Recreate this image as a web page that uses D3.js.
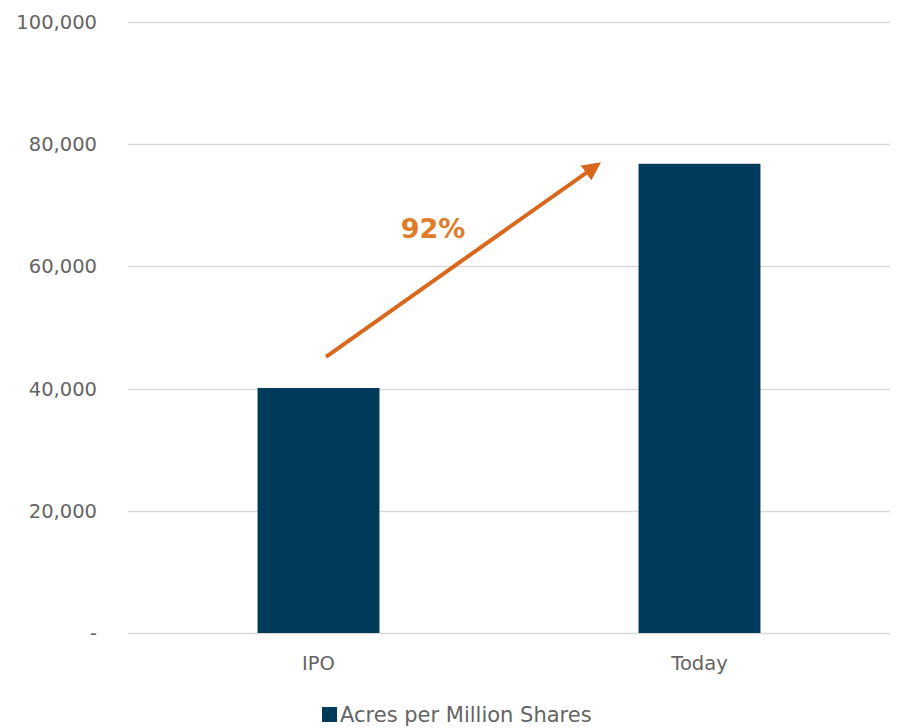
<!DOCTYPE html>
<html>
<head>
<meta charset="utf-8">
<script src="https://cdn.jsdelivr.net/npm/d3@7"></script>
<style>
body{margin:0;background:#fff;}
text{font-family:"DejaVu Sans",sans-serif;}
</style>
</head>
<body>
<div id="chart"></div>
<script>
var categories=["IPO","Today"];
var values=[40100,76800];
var yTicks=[0,20000,40000,60000,80000,100000];
var seriesName="Acres per Million Shares";
var changeLabel="92%";
// arrow annotation start / end, in data values
var arrowFrom=[45200];
var arrowTo=[77000];

var W=898,H=728;
var mLeft=128,mRight=890,mTop=22,mBottom=633;

var svg=d3.select("#chart").append("svg")
	.attr("width",W)
	.attr("height",H);

var x=d3.scaleBand()
	.domain(categories)
	.range([mLeft,mRight])
	.paddingInner(0.68)
	.paddingOuter(0.34);

var y=d3.scaleLinear()
	.domain([0,100000])
	.range([mBottom,mTop]);

// gridlines
svg.append("g")
	.selectAll("line")
	.data(yTicks)
	.enter()
	.append("line")
	.attr("x1",mLeft)
	.attr("x2",mRight)
	.attr("y1",function(d){return Math.round(y(d))+0.5;})
	.attr("y2",function(d){return Math.round(y(d))+0.5;})
	.attr("stroke","#d9d9d9")
	.attr("stroke-width",1.3);

// y labels
svg.append("g")
	.selectAll("text")
	.data(yTicks)
	.enter()
	.append("text")
	.attr("x",97)
	.attr("y",function(d){return y(d);})
	.attr("dy","0.36em")
	.attr("text-anchor","end")
	.attr("fill","#646464")
	.style("font-size","19.5px")
	.text(function(d){return d===0?"-":d3.format(",")(d);});

// bars
svg.append("g")
	.selectAll("rect")
	.data(values)
	.enter()
	.append("rect")
	.attr("x",function(d,i){return x(categories[i]);})
	.attr("width",x.bandwidth())
	.attr("y",function(d){return y(d);})
	.attr("height",function(d){return mBottom-y(d);})
	.attr("fill","#003b5c");

// x labels
svg.append("g")
	.selectAll("text")
	.data(categories)
	.enter()
	.append("text")
	.attr("x",function(d){return x(d)+x.bandwidth()/2;})
	.attr("y",670)
	.attr("text-anchor","middle")
	.attr("fill","#646464")
	.style("font-size","19.5px")
	.text(function(d){return d;});

// arrow
var defs=svg.append("defs");
defs.append("marker")
	.attr("id","head")
	.attr("viewBox","0 0 10 10")
	.attr("refX",7)
	.attr("refY",5)
	.attr("markerWidth",4.6)
	.attr("markerHeight",4.6)
	.attr("orient","auto")
	.append("path")
	.attr("d","M0 0 L10 5 L0 10 z")
	.attr("fill","#d9681c");

var cx0=x("IPO")+x.bandwidth()/2+7.5;
var cx1=x("Today")+x.bandwidth()/2-103;
svg.append("line")
	.attr("x1",cx0)
	.attr("y1",y(arrowFrom[0]))
	.attr("x2",cx1)
	.attr("y2",y(arrowTo[0])+3)
	.attr("stroke","#d9681c")
	.attr("stroke-width",4)
	.attr("marker-end","url(#head)");

svg.append("text")
	.attr("x",433)
	.attr("y",238)
	.attr("text-anchor","middle")
	.attr("fill","#e07b28")
	.style("font-size","27px")
	.style("font-weight","bold")
	.text(changeLabel);

// legend
var lg=svg.append("g");
lg.append("rect")
	.attr("x",322)
	.attr("y",707)
	.attr("width",15)
	.attr("height",15)
	.attr("fill","#003b5c");
lg.append("text")
	.attr("x",340)
	.attr("y",722)
	.attr("fill","#646464")
	.style("font-size","21px")
	.text(seriesName);
</script>
</body>
</html>
